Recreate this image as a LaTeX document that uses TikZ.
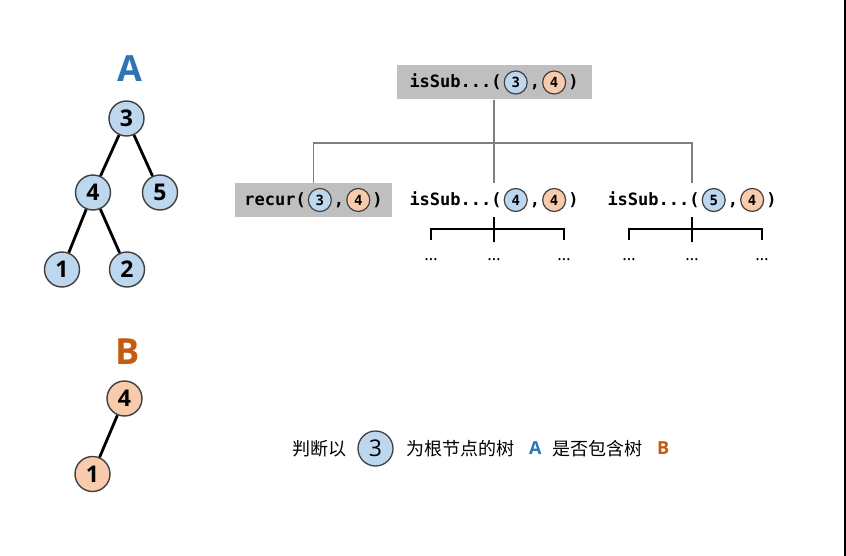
\documentclass[tikz,border=0pt]{standalone}
\usepackage{fontspec}
\setmainfont{Open Sans}
\newfontfamily\cjkfont{Noto Sans CJK SC}
\newfontfamily\codefont{DejaVu Sans Mono}
\usetikzlibrary{calc}
\definecolor{bfill}{HTML}{BDD7EE}
\definecolor{ofill}{HTML}{F8CBAD}
\definecolor{btext}{HTML}{2E75B6}
\definecolor{otext}{HTML}{C55A11}
\definecolor{boxgray}{HTML}{BFBFBF}
\definecolor{linegray}{HTML}{7F7F7F}
\definecolor{rim}{HTML}{404040}
\tikzset{
  treenode/.style={circle,draw=rim,line width=1.4pt,minimum size=35pt,inner sep=0pt,
    font=\fontsize{23}{23}\selectfont\bfseries},
  smallnode/.style={circle,draw=rim,line width=1.2pt,minimum size=23pt,inner sep=0pt,
    font=\fontsize{14}{14}\selectfont\bfseries},
  callbox/.style={fill=boxgray,minimum height=34pt,inner sep=0pt,
    font=\codefont\fontsize{17}{17}\selectfont\bfseries},
  calltext/.style={minimum height=34pt,inner sep=0pt,
    font=\codefont\fontsize{17}{17}\selectfont\bfseries},
  treeedge/.style={line width=2.8pt,black},
  grayline/.style={line width=1.2pt,linegray},
  bracket/.style={line width=1.5pt,black},
  dots/.style={font=\fontsize{17}{17}\selectfont,inner sep=0pt},
  cjktext/.style={font=\cjkfont\fontsize{18}{18}\selectfont,inner sep=0pt,anchor=west},
  biglabel/.style={font=\fontsize{36}{36}\selectfont\bfseries,inner sep=0pt},
}
\newcommand\incirc[2]{\hspace{2pt}\tikz[baseline=(incirc.base)]\node(incirc)[smallnode,fill=#1]{#2};\hspace{2pt}}
\begin{document}
\begin{tikzpicture}[x=1pt,y=-1pt]
\useasboundingbox (0,0) rectangle (846,556);
\fill[white] (0,0) rectangle (846,556);
\fill[black] (844,0) rectangle (846,556);

% Tree A
\node[biglabel,text=btext] (labA) at (130,69) {A};
\node[treenode,fill=bfill] (a3) at (126.5,118.5) {3};
\node[treenode,fill=bfill] (a4) at (93,192.5) {4};
\node[treenode,fill=bfill] (a5) at (160,192.5) {5};
\node[treenode,fill=bfill] (a1) at (62,269.5) {1};
\node[treenode,fill=bfill] (a2) at (127,269.5) {2};
\draw[treeedge] (a3) -- (a4);
\draw[treeedge] (a3) -- (a5);
\draw[treeedge] (a4) -- (a1);
\draw[treeedge] (a4) -- (a2);

% Tree B
\node[biglabel,text=otext] (labB) at (128,352) {B};
\node[treenode,fill=ofill] (b4) at (124.5,398.5) {4};
\node[treenode,fill=ofill] (b1) at (92.5,474) {1};
\draw[treeedge] (b4) -- (b1);

% Call tree
\node[callbox,minimum width=195pt] (top) at (494,82.5) {isSub...(\incirc{bfill}{3},\incirc{ofill}{4})};
\node[callbox,minimum width=157pt] (recur) at (313.5,200) {recur(\incirc{bfill}{3},\incirc{ofill}{4})};
\node[calltext] (sub4) at (494,200) {isSub...(\incirc{bfill}{4},\incirc{ofill}{4})};
\node[calltext] (sub5) at (692,200) {isSub...(\incirc{bfill}{5},\incirc{ofill}{4})};
\coordinate (j) at (494,143);
\draw[grayline] (top.south) -- (sub4.north);
\draw[grayline] (recur.north) |- (j) -| (sub5.north);

% brackets under sub4
\coordinate (h4) at (494,229);
\draw[bracket] (sub4.south) -- ++(0,25);
\draw[bracket] (431,240) |- (h4) -| (564,240);
\node[dots] (d41) at (431,260) {…};
\node[dots] (d42) at (494,260) {…};
\node[dots] (d43) at (564,260) {…};
% brackets under sub5
\coordinate (h5) at (692,229);
\draw[bracket] (sub5.south) -- ++(0,25);
\draw[bracket] (629,240) |- (h5) -| (762,240);
\node[dots] (d51) at (629,260) {…};
\node[dots] (d52) at (692,260) {…};
\node[dots] (d53) at (762,260) {…};

% Caption
\node[cjktext] (t1) at (292,449) {判断以};
\node[circle,draw=rim,line width=1.3pt,fill=bfill,minimum size=35pt,inner sep=0pt,
  font=\fontsize{23}{23}\selectfont] (c3) at (375.5,448.5) {3};
\node[cjktext] (t2) at (406,449) {为根节点的树};
\node[anchor=west,inner sep=0pt,text=btext,font=\fontsize{18}{18}\selectfont\bfseries] (tA) at (529,448) {A};
\node[cjktext] (t3) at (552,449) {是否包含树};
\node[anchor=west,inner sep=0pt,text=otext,font=\fontsize{18}{18}\selectfont\bfseries] (tB) at (657,448) {B};
\end{tikzpicture}
\end{document}
